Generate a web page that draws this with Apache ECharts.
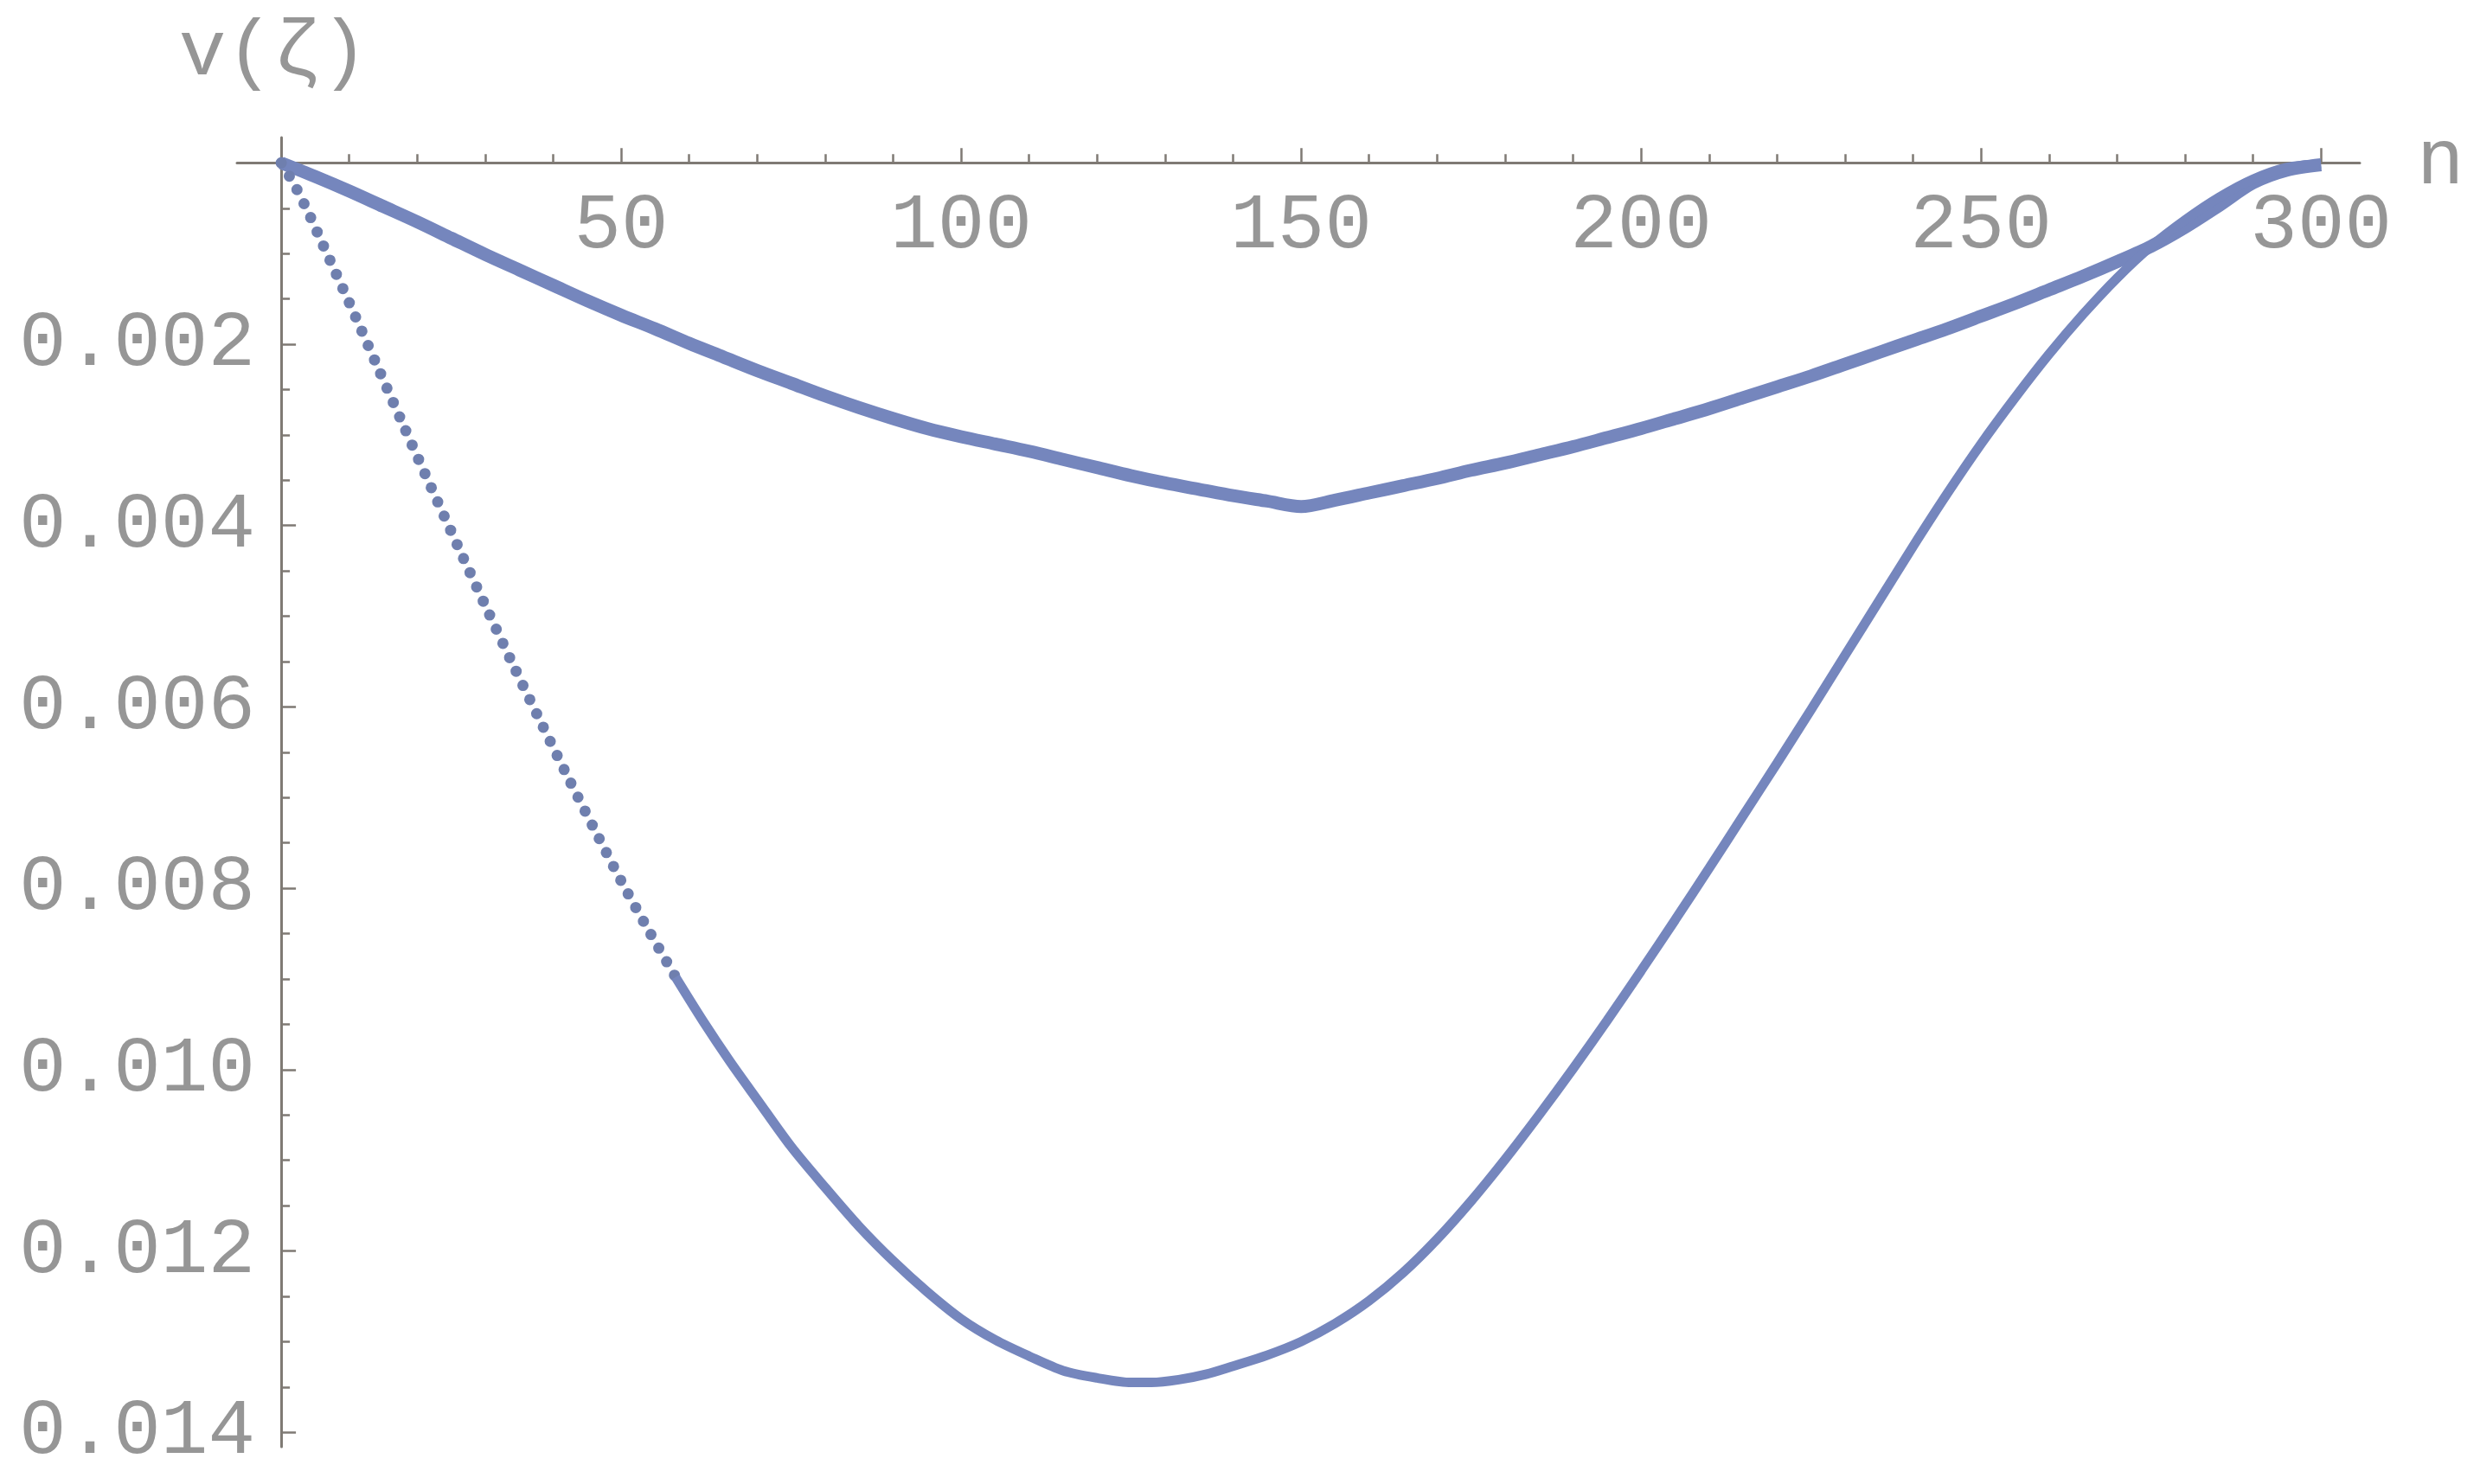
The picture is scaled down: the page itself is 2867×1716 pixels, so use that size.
<!DOCTYPE html>
<html>
<head>
<meta charset="utf-8">
<script src="https://cdn.jsdelivr.net/npm/echarts@6/dist/echarts.min.js"></script>
<style>
html,body{margin:0;padding:0;background:#fff;}
#chart{width:2867px;height:1716px;}
</style>
</head>
<body>
<div id="chart"></div>
<script>
// ---- data ----
const xTickLabels = [50, 100, 150, 200, 250, 300];
const xMajorTicks = [0, 50, 100, 150, 200, 250, 300];
const yTickLabels = [0.002, 0.004, 0.006, 0.008, 0.010, 0.012, 0.014];
const yMajorTicks = [0, 0.002, 0.004, 0.006, 0.008, 0.010, 0.012, 0.014];

const upperN = [0,5,10,15,20,25,30,35,40,45,50,55,60,65,70,75,80,85,90,95,100,105,110,115,120,125,130,135,140,145,150,155,160,165,170,175,180,185,190,195,200,205,210,215,220,225,230,235,240,245,250,255,260,265,270,275,280,285,290,295,300];
const upperV = [0,0.00015,0.00031,0.00048,0.00065,0.00083,0.00101,0.00118,0.00135,0.00152,0.00168,0.00183,0.00199,0.00214,0.00229,0.00243,0.00257,0.00270,0.00282,0.00293,0.00302,0.00310,0.00318,0.00327,0.00336,0.00345,0.00353,0.00360,0.00367,0.00373,0.00379,0.00372,0.00364,0.00356,0.00348,0.00339,0.00331,0.00322,0.00313,0.00303,0.00293,0.00282,0.00271,0.00259,0.00247,0.00235,0.00222,0.00209,0.00196,0.00183,0.00169,0.00155,0.00140,0.00125,0.00109,0.00092,0.00071,0.00047,0.00022,0.00008,0.00002];

const lowerLeftN = [0,2,4,6,8,10,14,18,22,26,30,34,38,42,46,50,54,58];
const lowerLeftV = [0,0.00025,0.00055,0.00088,0.00121,0.00154,0.00222,0.00290,0.00357,0.00423,0.00488,0.00552,0.00614,0.00675,0.00734,0.00792,0.00846,0.00898];

const lowerN = [58,62,66,70,75,80,85,90,95,100,105,110,115,120,125,128,132,136,140,145,150,155,160,165,170,175,180,185,190,195,200,205,210,215,220,225,230,235,240,245,250,255,260,265,270,275,280,285,290,295,300];
const lowerV = [0.00898,0.00946,0.00991,0.01033,0.01085,0.01130,0.01173,0.01211,0.01245,0.01275,0.01298,0.01316,0.01332,0.01340,0.01345,0.01345,0.01342,0.01336,0.01327,0.01315,0.01300,0.01280,0.01255,0.01224,0.01187,0.01145,0.01099,0.01050,0.00999,0.00946,0.00891,0.00835,0.00778,0.00720,0.00662,0.00603,0.00543,0.00483,0.00423,0.00365,0.00310,0.00259,0.00211,0.00167,0.00127,0.00092,0.00063,0.00038,0.00018,0.00005,0.00001];

// axis ranges (the axis lines run a little past the origin, as in the reference)
const X_MIN = -6.5, X_MAX = 305.7;
const Y_MIN = -0.00028, Y_MAX = 0.01416;

const zip = (a, b) => a.map((x, i) => [x, b[i]]);

const W = 2867, H = 1716;
const G = {left: 274, right: 139, top: 159, bottom: 43};
// inner grid whose left/top edges sit exactly on x = 0 / y = 0 (for the tick labels)
const pxPerX = (W - G.left - G.right) / (X_MAX - X_MIN);
const pxPerY = (H - G.top - G.bottom) / (Y_MAX - Y_MIN);
const innerLeft = G.left + (0 - X_MIN) * pxPerX;
const innerTop = G.top + (0 - Y_MIN) * pxPerY;

const axisColor = '#7f7a74';
const textColor = '#969696';
const curveColor = '#7586bd';
const font = 'Liberation Mono';
const fs = 91;

const chart = echarts.init(document.getElementById('chart'), null, {renderer: 'canvas'});
chart.setOption({
  animation: false,
  backgroundColor: '#ffffff',
  grid: [
    {left: G.left, right: G.right, top: G.top, bottom: G.bottom, containLabel: false, outerBoundsMode: 'none'},
    {left: innerLeft, right: G.right, top: innerTop, bottom: G.bottom, containLabel: false, outerBoundsMode: 'none'}
  ],
  xAxis: [
    {
      gridIndex: 0, type: 'value', position: 'bottom',
      min: X_MIN, max: X_MAX, minInterval: 50, maxInterval: 50,
      name: 'n', nameLocation: 'end', nameGap: 66,
      nameTextStyle: {fontFamily: font, fontSize: fs, color: textColor, align: 'left', verticalAlign: 'middle', padding: [6, 0, 0, 0]},
      axisLine: {show: true, onZero: true, lineStyle: {color: axisColor, width: 3}},
      axisTick: {show: true, inside: true, length: 17, customValues: xMajorTicks, lineStyle: {color: axisColor, width: 2.5}},
      minorTick: {show: true, splitNumber: 5, length: 10, lineStyle: {color: axisColor, width: 2.5}},
      axisLabel: {show: false},
      splitLine: {show: false}, minorSplitLine: {show: false}
    },
    {
      gridIndex: 1, type: 'value', position: 'top',
      min: 0, max: X_MAX, minInterval: 50, maxInterval: 50,
      axisLine: {show: false}, axisTick: {show: false},
      axisLabel: {show: true, inside: true, margin: 28, customValues: xTickLabels,
        fontFamily: font, fontSize: fs, color: textColor, formatter: v => String(Math.round(v))},
      splitLine: {show: false}
    }
  ],
  yAxis: [
    {
      gridIndex: 0, type: 'value', position: 'left', inverse: true,
      min: Y_MIN, max: Y_MAX, minInterval: 0.002, maxInterval: 0.002,
      name: 'v(ζ)', nameLocation: 'start', nameGap: 52,
      nameTextStyle: {fontFamily: font, fontSize: fs, color: textColor, align: 'center', padding: [0, 18, 0, 0]},
      axisLine: {show: true, onZero: true, lineStyle: {color: axisColor, width: 3}},
      axisTick: {show: true, inside: true, length: 17, customValues: yMajorTicks, lineStyle: {color: axisColor, width: 2.5}},
      minorTick: {show: true, splitNumber: 4, length: 10, lineStyle: {color: axisColor, width: 2.5}},
      axisLabel: {show: false},
      splitLine: {show: false}, minorSplitLine: {show: false}
    },
    {
      gridIndex: 1, type: 'value', position: 'left', inverse: true,
      min: 0, max: Y_MAX, minInterval: 0.002, maxInterval: 0.002,
      axisLine: {show: false}, axisTick: {show: false},
      axisLabel: {show: true, inside: false, margin: 30, customValues: yTickLabels,
        fontFamily: font, fontSize: fs, color: textColor, formatter: v => v.toFixed(3)},
      splitLine: {show: false}
    }
  ],
  series: [
    {
      type: 'line', name: 'upper', xAxisIndex: 0, yAxisIndex: 0,
      data: zip(upperN, upperV), smooth: 0.3, symbol: 'none',
      lineStyle: {color: curveColor, width: 15}, z: 3
    },
    {
      type: 'line', name: 'lowerLeft', xAxisIndex: 0, yAxisIndex: 0,
      data: zip(lowerLeftN, lowerLeftV), smooth: 0.3, symbol: 'none',
      lineStyle: {color: '#6f7fae', width: 13, type: [0, 18], cap: 'round'}, z: 3
    },
    {
      type: 'line', name: 'lower', xAxisIndex: 0, yAxisIndex: 0,
      data: zip(lowerN, lowerV), smooth: 0.3, symbol: 'none',
      lineStyle: {color: curveColor, width: 11}, z: 3
    }
  ]
});
</script>
</body>
</html>
